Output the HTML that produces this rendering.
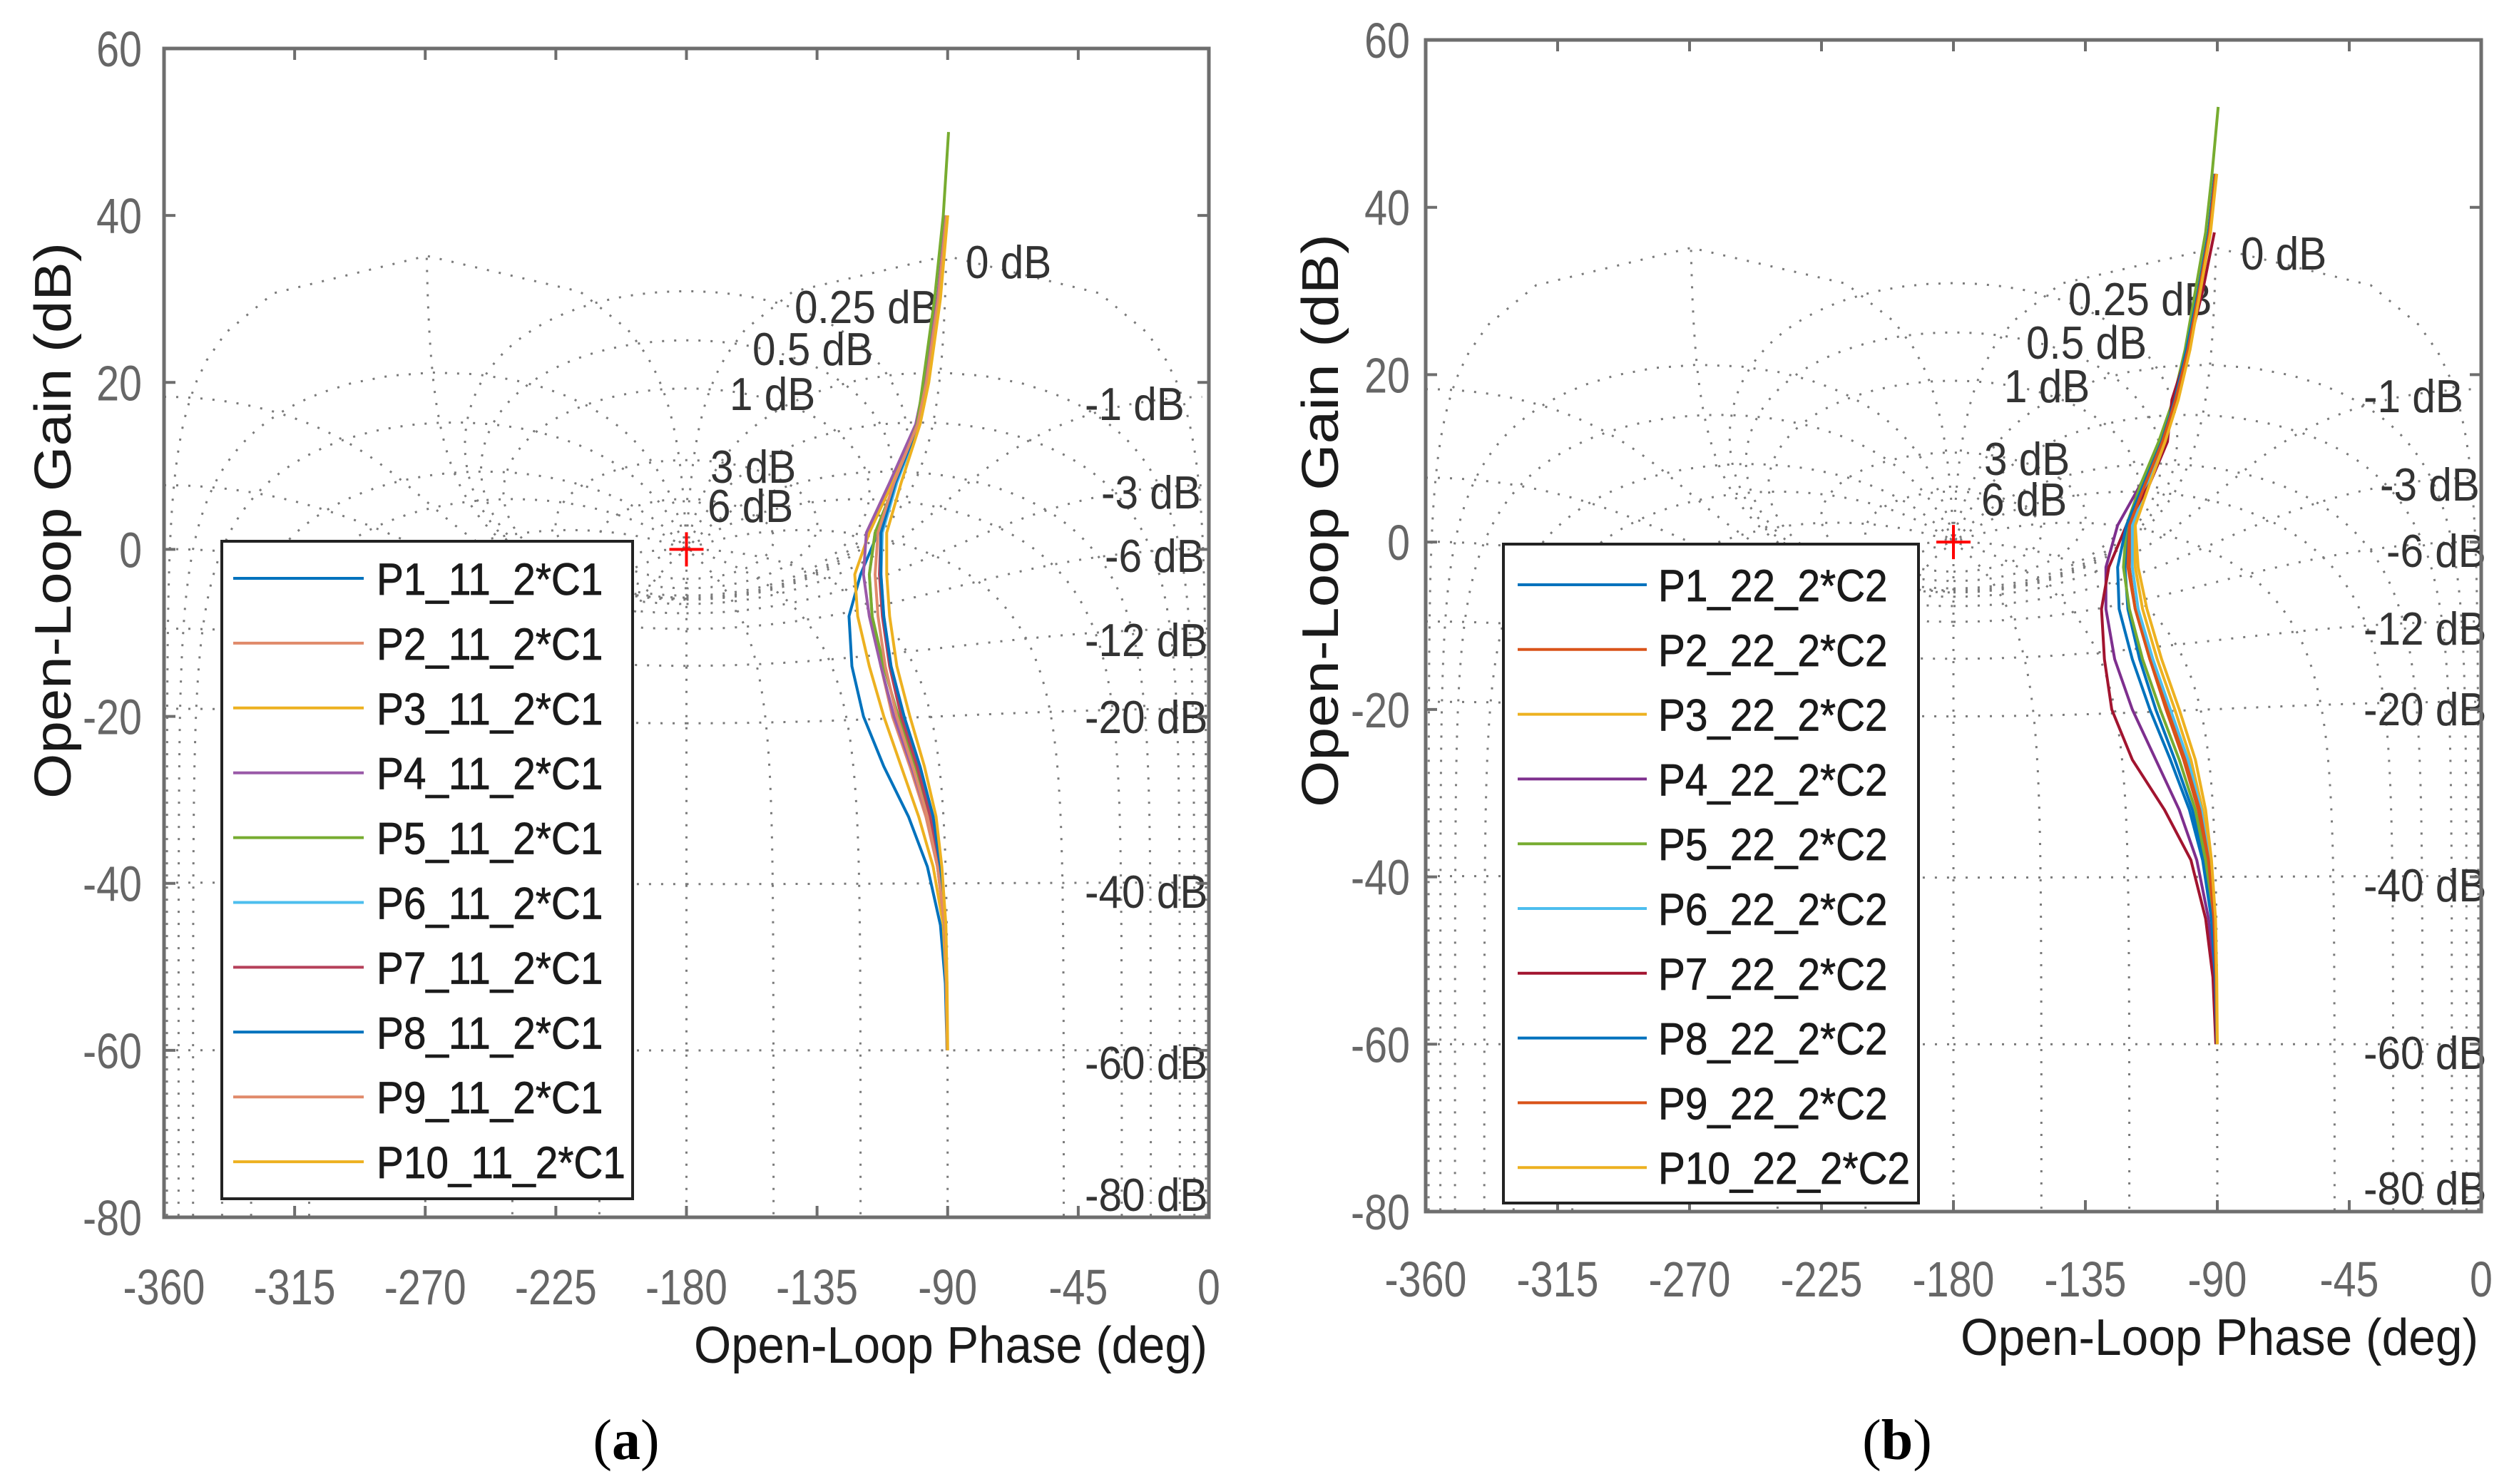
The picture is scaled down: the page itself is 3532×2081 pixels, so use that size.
<!DOCTYPE html>
<html><head><meta charset="utf-8">
<style>
html,body{margin:0;padding:0;background:#fff;}
svg{display:block;font-family:"Liberation Sans",Arial,sans-serif;}
</style></head>
<body>
<svg id="fig" width="3532" height="2081" viewBox="0 0 3532 2081" xmlns="http://www.w3.org/2000/svg">
<defs>
<clipPath id="clipA"><rect x="230" y="68" width="1465" height="1639"/></clipPath>
<clipPath id="clipB"><rect x="1999" y="56" width="1480" height="1643"/></clipPath>
</defs>
</svg>
<script>
// ---- data ----
const phaseTicks = [-360,-315,-270,-225,-180,-135,-90,-45,0];
const gainTicks = [60,40,20,0,-20,-40,-60,-80];
const gridMdB = [6,3,1,0.5,0.25,0,-1,-3,-6,-12,-20,-40,-60,-80];
const gridPhase = [-1,-5,-10,-20,-30,-50,-90,-120,-150,-180,-210,-240,-270,-310,-330,-340,-350,-355,-359];
const seriesColors = ['#0072BD','#E08A6A','#EDB120','#9A5AA8','#77AC30','#4DBEEE','#B5405A','#0072BD','#E08A6A','#EDB120'];
const seriesColorsB = ['#0072BD','#D95319','#EDB120','#7E2F8E','#77AC30','#4DBEEE','#A2142F','#0072BD','#D95319','#EDB120'];
const namesA = ['P1_11_2*C1','P2_11_2*C1','P3_11_2*C1','P4_11_2*C1','P5_11_2*C1','P6_11_2*C1','P7_11_2*C1','P8_11_2*C1','P9_11_2*C1','P10_11_2*C1'];
const namesB = ['P1_22_2*C2','P2_22_2*C2','P3_22_2*C2','P4_22_2*C2','P5_22_2*C2','P6_22_2*C2','P7_22_2*C2','P8_22_2*C2','P9_22_2*C2','P10_22_2*C2'];

const gainA = [50,40,30,20,15,8,2,-3,-8,-14,-20,-26,-32,-38,-45,-52,-60];
const a1 = [null,-90.5,-93.5,-97.5,-100.5,-108,-114,-120,-124,-123,-119,-112,-103.5,-97,-92.5,-90.8,-90.2];
const a2 = [null,-90.3,-93,-97,-100,-108,-115,-117,-116,-113,-109,-103,-97.5,-93.5,-91,-90.3,-90.1];
const a3 = [null,-90,-93,-97,-100,-109,-117,-122,-121,-117,-112,-106,-100,-95,-91.5,-90.5,-90.2];
const a4 = [null,-90.6,-93.5,-98,-101,-110,-118,-119,-117,-113,-108.5,-102.5,-97,-93.5,-91,-90.4,-90.1];
const a5 = [-89.7,-91.5,-94.5,-98.5,-100.5,-108,-115,-117,-116,-112,-107,-101,-96,-93,-91,-90.3,-90.1];
const a6 = [null,-90.2,-92.8,-96.8,-99.8,-107.5,-112.5,-113,-112,-109.5,-105,-100,-95.5,-92.8,-91,-90.3,-90.1];
const a7 = [null,-90.4,-93,-97,-100,-108,-113,-113.5,-112.5,-110,-106,-100.5,-96,-93,-91,-90.3,-90.1];
const a8 = [null,-90.3,-93,-97,-100,-108,-113,-113,-112,-109.5,-105,-99.5,-95,-92.5,-90.8,-90.3,-90.1];
const a9 = [null,-90.4,-93.2,-97.3,-100.3,-108.5,-114,-115,-114,-111.5,-107.5,-102,-97,-93.5,-91,-90.4,-90.1];
const a10 = [null,-90,-92.5,-96.5,-99.5,-106,-111,-111,-110,-107.5,-103,-98,-94,-92,-90.6,-90.2,-90];

const gainB = [52,44,37,30,23,17,12,7,2,-3,-8,-14,-20,-26,-32,-38,-45,-52,-60];
const b1 = [null,-90.5,-92.5,-96,-100,-104,-108.5,-114.5,-120,-121.5,-120.5,-116.5,-111,-104.5,-98.5,-94.5,-91.8,-90.6,-90.2];
const b2 = [null,-90.5,-92.5,-96,-100,-104,-108.5,-114,-119.5,-120,-118,-113,-107.5,-101.5,-96.5,-93.5,-91.3,-90.4,-90.1];
const b3 = [null,-90.3,-92.5,-96,-99.5,-103.5,-108,-113.5,-118.5,-118,-115.5,-110.5,-104.5,-99,-95,-92.5,-91,-90.3,-90.1];
const b4 = [null,-90.8,-93,-96.5,-100.5,-104.5,-109,-116,-124,-128,-128,-125,-119,-111,-103,-97,-93,-91,-90.3];
const b5 = [-89.7,-91.8,-94,-97.5,-101,-105,-110,-116,-121,-122,-120,-115.5,-109.5,-103,-97.5,-94,-91.5,-90.5,-90.2];
const b6 = [null,-90.7,-92.8,-96,-99.8,-104,-108.5,-114,-119,-119,-117,-112,-106,-100,-95.5,-92.8,-91,-90.3,-90.1];
const b7 = [null,null,-91,-95,-100,-105.5,-107,-113,-121,-127,-129.5,-128.5,-126,-119,-108,-99,-94,-91.5,-90.5];
const b8 = [null,-90.8,-93,-96.5,-100.5,-104.5,-109,-115,-121,-124,-123.5,-119,-113,-106,-99.5,-95,-92,-90.7,-90.2];
const b9 = [null,-90.6,-92.7,-96.2,-100,-104.2,-108.7,-114.5,-120,-120.5,-118,-113,-107,-101,-96,-93,-91.2,-90.4,-90.1];
const b10 = [null,-90.2,-92.3,-95.8,-99.3,-103.3,-107.8,-113,-118,-117,-114,-109,-103,-97.5,-94,-92,-90.6,-90.2,-90];

const gridLabels = ['0 dB','0.25 dB','0.5 dB','1 dB','3 dB','6 dB','-1 dB','-3 dB','-6 dB','-12 dB','-20 dB','-40 dB','-60 dB','-80 dB'];

// ---- layout ----
const NS='http://www.w3.org/2000/svg';
const svg=document.getElementById('fig');
function mk(tag,attrs,parent){const e=document.createElementNS(NS,tag);for(const k in attrs)e.setAttribute(k,attrs[k]);(parent||svg).appendChild(e);return e;}
function squeeze(t,f){const L=t.getComputedTextLength();if(L>0){t.setAttribute('textLength',(L*f).toFixed(1));t.setAttribute('lengthAdjust','spacingAndGlyphs');}}

const plots=[
 {id:'a',x0:230,y0:68,w:1465,h:1639,clip:'clipA',gain:gainA,series:[a1,a2,a3,a4,a5,a6,a7,a8,a9,a10],colors:seriesColors,names:namesA,
  leg:{x:311,y:759,w:576,h:922,lx1:327,lx2:510,tx:528,ty0:811,dy:90.9},
  ytx:199,xty:1804,xtitle:{x1:973,x2:1693,y:1887},ytitle:{x:75,y1:340,y2:1120},cap:{x:878,y:2018,t:'a'},
  labels:[[1354,367],[1114,430],[1055,489],[1023,552],[996,654],[992,709],[1521,566],[1544,690],[1549,779],[1521,897],[1521,1005],[1521,1250],[1521,1490],[1521,1675]]},
 {id:'b',x0:1999,y0:56,w:1480,h:1643,clip:'clipB',gain:gainB,series:[b1,b2,b3,b4,b5,b6,b7,b8,b9,b10],colors:seriesColorsB,names:namesB,
  leg:{x:2108,y:763,w:582,h:924,lx1:2128,lx2:2309,tx:2325,ty0:820,dy:90.8},
  ytx:1977,xty:1793,xtitle:{x1:2749,x2:3475,y:1876},ytitle:{x:1852,y1:328,y2:1132},cap:{x:2660,y:2018,t:'b'},
  labels:[[3142,355],[2900,419],[2841,480],[2810,541],[2782,643],[2778,700],[3314,555],[3337,679],[3346,772],[3314,881],[3314,994],[3314,1241],[3314,1476],[3314,1666]]}
];

function gridCurvesM(mdb){
  const m=Math.pow(10,mdb/20);const pts=[];const N=1400;
  for(let i=0;i<=N;i++){const th=-Math.PI+2*Math.PI*i/N+1e-6;
    const tr=m*Math.cos(th),ti=m*Math.sin(th);const dr=1-tr,di=-ti;const den=dr*dr+di*di;
    const lr=(tr*dr+ti*di)/den,li=(ti*dr-tr*di)/den;
    let ph=Math.atan2(li,lr)*180/Math.PI;if(ph>0)ph-=360;const g=10*Math.log10(lr*lr+li*li);pts.push([ph,g]);}
  return pts;
}
function gridCurvesP(pd){
  const p=pd*Math.PI/180;const pts=[];const N=900;
  for(let i=0;i<=N;i++){const m=Math.pow(10,-4.5+9*i/N);
    const tr=m*Math.cos(p),ti=m*Math.sin(p);const dr=1-tr,di=-ti;const den=dr*dr+di*di;
    const lr=(tr*dr+ti*di)/den,li=(ti*dr-tr*di)/den;
    let ph=Math.atan2(li,lr)*180/Math.PI;if(ph>0)ph-=360;const g=10*Math.log10(lr*lr+li*li);pts.push([ph,g]);}
  return pts;
}

plots.forEach(P=>{
  const X=ph=>P.x0+(ph+360)*P.w/360;
  const Y=g=>P.y0+(60-g)*P.h/140;
  const grp=mk('g',{'clip-path':'url(#'+P.clip+')'});
  
  
  function drawPts(pts){
    let d='',prev=null;
    pts.forEach(q=>{const ok=isFinite(q[1])&&q[1]<=36&&q[1]>-90;
      if(!ok){prev=null;return;}
      if(prev&&Math.abs(q[0]-prev[0])<90)d+='L'+X(q[0]).toFixed(1)+' '+Y(q[1]).toFixed(1);
      else d+='M'+X(q[0]).toFixed(1)+' '+Y(q[1]).toFixed(1);
      prev=q;});
    const p=mk('path',{d:d,fill:'none',stroke:'#7a7a7a','stroke-width':3,'stroke-dasharray':'3 14'},grp);
    
    
  }
  gridMdB.forEach(v=>drawPts(gridCurvesM(v)));
  gridPhase.forEach(v=>drawPts(gridCurvesP(v)));

  P.labels.forEach((L,i)=>{const t=mk('text',{x:L[0],y:L[1]+23,'font-size':65,fill:'#333'});t.textContent=gridLabels[i];
    
    
    squeeze(t,0.9);});

  const sg=mk('g',{'clip-path':'url(#'+P.clip+')'});
  
  
  P.series.forEach((s,k)=>{let d='';let started=false;
    s.forEach((ph,i)=>{if(ph===null)return;d+=(started?'L':'M')+X(ph).toFixed(1)+' '+Y(P.gain[i]).toFixed(1);started=true;});
    const p=mk('path',{d:d,fill:'none',stroke:P.colors[k],'stroke-width':4,'stroke-linejoin':'round'},sg);
    
    });

  const cx=X(-180),cy=Y(0);
  const cp=mk('path',{d:`M${cx-24} ${cy}H${cx+24}M${cx} ${cy-24}V${cy+24}`,stroke:'#ff0000','stroke-width':4,fill:'none'});
  
  

  const fr=mk('rect',{x:P.x0,y:P.y0,width:P.w,height:P.h,fill:'none',stroke:'#6e6e6e','stroke-width':5});
  
  
  phaseTicks.forEach(v=>{const x=X(v);
    const tk=mk('path',{d:`M${x} ${P.y0+P.h}v-16M${x} ${P.y0}v16`,stroke:'#6e6e6e','stroke-width':4});
    
    
    const t=mk('text',{x:x,y:P.xty+25,'font-size':70,fill:'#666','text-anchor':'middle'});t.textContent=v;
    
    
    squeeze(t,0.82);});
  gainTicks.forEach(v=>{const y=Y(v);
    const tk=mk('path',{d:`M${P.x0} ${y}h16M${P.x0+P.w} ${y}h-16`,stroke:'#6e6e6e','stroke-width':4});
    
    
    const t=mk('text',{x:P.ytx,y:y+25,'font-size':70,fill:'#666','text-anchor':'end'});t.textContent=v;
    
    
    squeeze(t,0.82);});

  const L=P.leg;
  const lg=mk('g',{});
  
  
  mk('rect',{x:L.x,y:L.y,width:L.w,height:L.h,fill:'#fff',stroke:'#222','stroke-width':4},lg);
  P.names.forEach((n,k)=>{const y=L.ty0+k*L.dy;
    const e=mk('g',{},lg);
    
    
    mk('line',{x1:L.lx1,x2:L.lx2,y1:y,y2:y,stroke:P.colors[k],'stroke-width':4},e);
    const t=mk('text',{x:L.tx,y:y+23,'font-size':63,fill:'#1a1a1a','stroke':'#1a1a1a','stroke-width':0.8},e);t.textContent=n;
    squeeze(t,0.9);});

  const xt=mk('text',{x:P.xtitle.x1,y:P.xtitle.y+24,'font-size':72,fill:'#1a1a1a'});xt.textContent='Open-Loop Phase (deg)';
  
  
  xt.setAttribute('textLength',P.xtitle.x2-P.xtitle.x1);xt.setAttribute('lengthAdjust','spacingAndGlyphs');
  const yc=(P.ytitle.y1+P.ytitle.y2)/2;
  const yt=mk('text',{x:P.ytitle.x,y:yc,'font-size':72,fill:'#1a1a1a','text-anchor':'middle',transform:`rotate(-90 ${P.ytitle.x} ${yc}) translate(0 24)`});
  yt.textContent='Open-Loop Gain (dB)';
  
  
  yt.setAttribute('textLength',P.ytitle.y2-P.ytitle.y1);yt.setAttribute('lengthAdjust','spacingAndGlyphs');

  const c=mk('text',{x:P.cap.x,y:P.cap.y+28,'font-size':80,'text-anchor':'middle',fill:'#000','font-family':'"Liberation Serif",serif'});
  c.innerHTML='(<tspan font-weight="bold">'+P.cap.t+'</tspan>)';
  
  
});
</script>
</body></html>
